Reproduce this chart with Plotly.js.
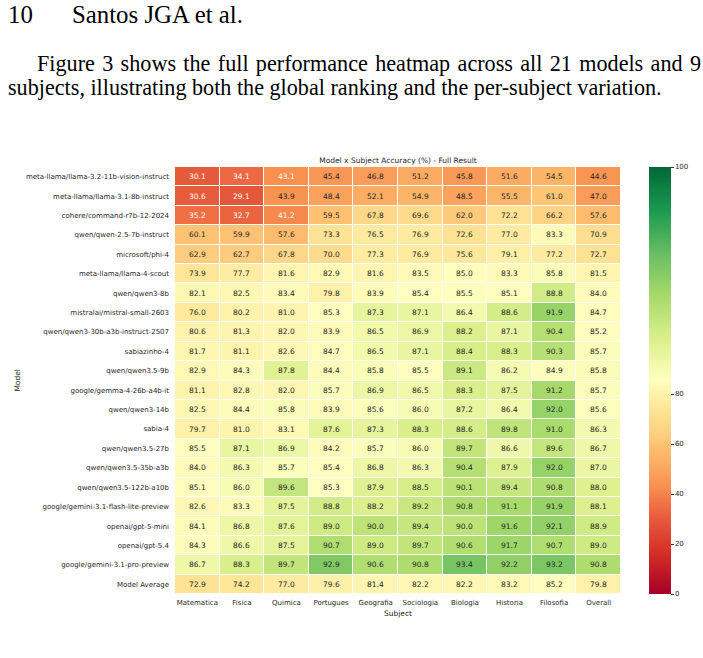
<!DOCTYPE html>
<html><head><meta charset="utf-8">
<script src="https://cdn.plot.ly/plotly-3.0.1.min.js"></script>
<style>
html,body{margin:0;padding:0;background:#fff;width:703px;height:658px;overflow:hidden}
#chart{position:absolute;left:0;top:0;width:703px;height:658px}
.pt{position:absolute;font-family:'Liberation Serif','DejaVu Serif',serif;color:#000;white-space:nowrap;line-height:1;z-index:5}
</style></head><body>
<div id="chart"></div>
<div class="pt" id="pg" style="left:8px;top:3px">10</div>
<div class="pt" id="hd" style="left:72px;top:3px">Santos JGA et al.</div>
<div class="pt" id="l1" style="left:37px;top:53px;width:664px;text-align:justify;text-align-last:justify;white-space:normal">Figure 3 shows the full performance heatmap across all 21 models and 9</div>
<div class="pt" id="l2" style="left:8px;top:77px">subjects, illustrating both the global ranking and the per-subject variation.</div>
<script>
// ---------------- data ----------------
const subjects = ['Matematica','Fisica','Quimica','Portugues','Geografia','Sociologia','Biologia','Historia','Filosofia','Overall'];
const models = [
  'meta-llama/llama-3.2-11b-vision-instruct',
  'meta-llama/llama-3.1-8b-instruct',
  'cohere/command-r7b-12-2024',
  'qwen/qwen-2.5-7b-instruct',
  'microsoft/phi-4',
  'meta-llama/llama-4-scout',
  'qwen/qwen3-8b',
  'mistralai/mistral-small-2603',
  'qwen/qwen3-30b-a3b-instruct-2507',
  'sabiazinho-4',
  'qwen/qwen3.5-9b',
  'google/gemma-4-26b-a4b-it',
  'qwen/qwen3-14b',
  'sabia-4',
  'qwen/qwen3.5-27b',
  'qwen/qwen3.5-35b-a3b',
  'qwen/qwen3.5-122b-a10b',
  'google/gemini-3.1-flash-lite-preview',
  'openai/gpt-5-mini',
  'openai/gpt-5.4',
  'google/gemini-3.1-pro-preview',
  'Model Average'
];
const matematica = [30.1,30.6,35.2,60.1,62.9,73.9,82.1,76.0,80.6,81.7,82.9,81.1,82.5,79.7,85.5,84.0,85.1,82.6,84.1,84.3,86.7,72.9];
const fisica     = [34.1,29.1,32.7,59.9,62.7,77.7,82.5,80.2,81.3,81.1,84.3,82.8,84.4,81.0,87.1,86.3,86.0,83.3,86.8,86.6,88.3,74.2];
const quimica    = [43.1,43.9,41.2,57.6,67.8,81.6,83.4,81.0,82.0,82.6,87.8,82.0,85.8,83.1,86.9,85.7,89.6,87.5,87.6,87.5,89.7,77.0];
const portugues  = [45.4,48.4,59.5,73.3,70.0,82.9,79.8,85.3,83.9,84.7,84.4,85.7,83.9,87.6,84.2,85.4,85.3,88.8,89.0,90.7,92.9,79.6];
const geografia  = [46.8,52.1,67.8,76.5,77.3,81.6,83.9,87.3,86.5,86.5,85.8,86.9,85.6,87.3,85.7,86.8,87.9,88.2,90.0,89.0,90.6,81.4];
const sociologia = [51.2,54.9,69.6,76.9,76.9,83.5,85.4,87.1,86.9,87.1,85.5,86.5,86.0,88.3,86.0,86.3,88.5,89.2,89.4,89.7,90.8,82.2];
const biologia   = [45.8,48.5,62.0,72.6,75.6,85.0,85.5,86.4,88.2,88.4,89.1,88.3,87.2,88.6,89.7,90.4,90.1,90.8,90.0,90.6,93.4,82.2];
const historia   = [51.6,55.5,72.2,77.0,79.1,83.3,85.1,88.6,87.1,88.3,86.2,87.5,86.4,89.8,86.6,87.9,89.4,91.1,91.6,91.7,92.2,83.2];
const filosofia  = [54.5,61.0,66.2,83.3,77.2,85.8,88.8,91.9,90.4,90.3,84.9,91.2,92.0,91.0,89.6,92.0,90.8,91.9,92.1,90.7,93.2,85.2];
const overall    = [44.6,47.0,57.6,70.9,72.7,81.5,84.0,84.7,85.2,85.7,85.8,85.7,85.6,86.3,86.7,87.0,88.0,88.1,88.9,89.0,90.8,79.8];
const colorbarTicks = [0,20,40,60,80,100];

// ---------------- build ----------------
const columns = [matematica,fisica,quimica,portugues,geografia,sociologia,biologia,historia,filosofia,overall];
const vCenter = 85.4;
const norm = v => v <= vCenter ? 0.5*v/vCenter : 0.5 + 0.5*(v - vCenter)/(100 - vCenter);

const stops = [
  [0.000,'#a50026'],[0.100,'#d73027'],[0.176,'#e65a3c'],[0.205,'#f06d44'],
  [0.252,'#f8904f'],[0.275,'#fa9d5a'],[0.310,'#fcb064'],[0.345,'#fdbf6f'],
  [0.369,'#fdcc7e'],[0.398,'#fed888'],[0.439,'#fee79a'],[0.468,'#fff1aa'],
  [0.500,'#ffffbf'],[0.600,'#d9ef8b'],[0.700,'#a6d96a'],[0.800,'#66bd63'],
  [0.900,'#1a9850'],[1.000,'#006837']
];
const hex = h => [1,3,5].map(i => parseInt(h.substr(i,2),16));
function colorAt(t){
  for(let k=1;k<stops.length;k++){
    if(t <= stops[k][0]){
      const a = stops[k-1], b = stops[k];
      const f = (t - a[0])/(b[0]-a[0]);
      const ca = hex(a[1]), cb = hex(b[1]);
      return ca.map((c,i)=>c + f*(cb[i]-c));
    }
  }
  return hex(stops[stops.length-1][1]);
}
function lum(rgb){
  const l = rgb.map(c => { c/=255; return c <= 0.03928 ? c/12.92 : Math.pow((c+0.055)/1.055, 2.4); });
  return 0.2126*l[0] + 0.7152*l[1] + 0.0722*l[2];
}

const z = models.map((m,i) => columns.map(col => norm(col[i])));
const annotations = [];
models.forEach((m,i) => {
  columns.forEach((col,j) => {
    const v = col[i];
    const c = colorAt(norm(v));
    annotations.push({
      x: subjects[j], y: m, xref:'x', yref:'y', text: v.toFixed(1), showarrow:false,
      font:{family:'DejaVu Sans', size:7.5, color: lum(c) > 0.408 ? '#262626' : '#ffffff'}
    });
  });
});
annotations.push({xref:'paper', yref:'paper', x:-0.354, y:0.5, text:'Model', textangle:-90, showarrow:false,
  font:{family:'DejaVu Sans', size:7.5, color:'#262626'}, xanchor:'center', yanchor:'middle'});
annotations.push({xref:'paper', yref:'paper', x:0.5, y:-0.045, text:'Subject', showarrow:false,
  font:{family:'DejaVu Sans', size:7.5, color:'#262626'}, xanchor:'center', yanchor:'middle'});

const trace = {
  type:'heatmap', x: subjects, y: models, z: z, zmin:0, zmax:1,
  colorscale: stops, xgap:1, ygap:1, hoverinfo:'skip',
  colorbar:{
    x:1.0628, xanchor:'left', xpad:0, ypad:0, y:0.5, yanchor:'middle', len:1, lenmode:'fraction',
    thickness:22, outlinewidth:0, ticks:'outside', ticklen:3, tickcolor:'#333',
    tickvals: colorbarTicks.map(norm), ticktext: colorbarTicks.map(String),
    tickfont:{family:'DejaVu Sans', size:7, color:'#262626'}
  }
};
const layout = {
  width:703, height:658,
  margin:{l:175, r:82, t:167, b:64, pad:0},
  paper_bgcolor:'#ffffff', plot_bgcolor:'#ffffff',
  font:{family:'DejaVu Sans', color:'#262626'},
  title:{text:'Model x Subject Accuracy (%) - Full Result', x:0.5, xref:'paper', y:1-160/658, yref:'container',
    xanchor:'center', yanchor:'middle', font:{family:'DejaVu Sans', size:7.5, color:'#262626'}},
  xaxis:{type:'category', showgrid:false, zeroline:false, ticks:'', showline:false,
    tickfont:{family:'DejaVu Sans', size:7, color:'#262626'}, ticklabelstandoff:3},
  yaxis:{type:'category', autorange:'reversed', showgrid:false, zeroline:false, ticks:'', showline:false,
    tickfont:{family:'DejaVu Sans', size:7, color:'#262626'}, ticklabelstandoff:5},
  annotations: annotations
};
Plotly.newPlot('chart', [trace], layout, {displayModeBar:false, staticPlot:true});

// fit page text sizes so the lines span their measured widths
(function(){
  const set = (id, fs) => document.getElementById(id).style.fontSize = fs.toFixed(2)+'px';
  const fit = (id, target) => {
    const el = document.getElementById(id);
    el.style.fontSize = '17px';
    const w = el.getBoundingClientRect().width;
    return 17*target/w;
  };
  const fsBody = fit('l2', 654);
  set('l1', fsBody); set('l2', fsBody);
  const fsHead = fit('hd', 171);
  set('hd', fsHead); set('pg', fsHead);
})();
</script>
</body></html>
